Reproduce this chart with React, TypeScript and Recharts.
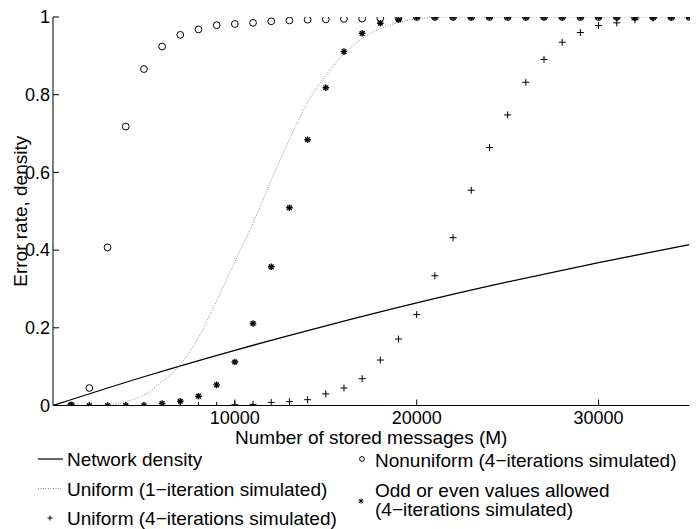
import React from 'react';
import { ComposedChart, Line, Scatter, XAxis, YAxis, Legend, Label } from 'recharts';

const FONT = '"Liberation Sans", Arial, Helvetica, sans-serif';

// Network density
const densityM = [0, 5000, 10000, 15000, 20000, 25000, 30000, 35000];
const densityVal = [0, 0.074, 0.142, 0.205, 0.264, 0.318, 0.368, 0.414];

// Uniform (1-iteration simulated) dotted curve
const uniform1M = [
  0, 1000, 2000, 3000, 4000, 5000, 6000, 7000, 8000, 9000, 10000, 11000, 12000,
  13000, 14000, 15000, 16000, 17000, 18000, 19000, 20000, 21000, 22000, 25000,
  30000, 35000,
];
const uniform1Val = [
  0, 0, 0, 0.002, 0.01, 0.027, 0.062, 0.105, 0.175, 0.27, 0.37, 0.47, 0.58,
  0.685, 0.78, 0.85, 0.905, 0.945, 0.97, 0.986, 0.995, 0.999, 1, 1, 1, 1,
];

// Simulated points at M = 1000 ... 35000
const simM = [
  1000, 2000, 3000, 4000, 5000, 6000, 7000, 8000, 9000, 10000, 11000, 12000,
  13000, 14000, 15000, 16000, 17000, 18000, 19000, 20000, 21000, 22000, 23000,
  24000, 25000, 26000, 27000, 28000, 29000, 30000, 31000, 32000, 33000, 34000,
  35000,
];
const uniform4Val = [
  0, 0, 0, 0, 0, 0, 0, 0, 0, 0.002, 0.003, 0.008, 0.01, 0.015, 0.03, 0.045,
  0.069, 0.117, 0.171, 0.234, 0.334, 0.432, 0.554, 0.664, 0.748, 0.832, 0.891,
  0.935, 0.96, 0.978, 0.985, 0.993, 0.997, 1, 1,
];
const nonuniformVal = [
  0, 0.045, 0.407, 0.718, 0.866, 0.924, 0.954, 0.968, 0.979, 0.982, 0.985,
  0.989, 0.991, 0.993, 0.994, 0.995, 0.996, 0.997, 0.998, 1, 1, 1, 1, 1, 1, 1,
  1, 1, 1, 1, 1, 1, 1, 1, 1,
];
const oddEvenVal = [
  0, 0, 0, 0, 0, 0.005, 0.011, 0.024, 0.053, 0.112, 0.211, 0.357, 0.509, 0.684,
  0.818, 0.911, 0.958, 0.984, 0.993, 1, 1, 1, 1, 1, 1, 1, 1, 1, 1, 1, 1, 1, 1,
  1, 1,
];

const xTicks = [10000, 20000, 30000];
const yTicks = [0, 0.2, 0.4, 0.6, 0.8, 1];

const toPts = (xs: number[], ys: number[]) => xs.map((x, i) => ({ x, y: ys[i] }));

const densityData = toPts(densityM, densityVal);
const uniform1Data = toPts(uniform1M, uniform1Val);
const uniform4Data = toPts(simM, uniform4Val);
const nonuniformData = toPts(simM, nonuniformVal);
const oddEvenData = toPts(simM, oddEvenVal);

const PlusShape = (p: any) => {
  const { cx, cy } = p;
  const r = 3.5;
  return (
    <g stroke="#000" strokeWidth={1}>
      <line x1={cx - r} y1={cy} x2={cx + r} y2={cy} />
      <line x1={cx} y1={cy - r} x2={cx} y2={cy + r} />
    </g>
  );
};

const CircleShape = (p: any) => {
  const { cx, cy } = p;
  return <circle cx={cx} cy={cy} r={3.4} fill="none" stroke="#000" strokeWidth={1} />;
};

const AsteriskShape = (p: any) => {
  const { cx, cy } = p;
  const r = 3.3;
  const d = r * 0.707;
  return (
    <g stroke="#000" strokeWidth={1.4}>
      <line x1={cx - r} y1={cy} x2={cx + r} y2={cy} />
      <line x1={cx} y1={cy - r} x2={cx} y2={cy + r} />
      <line x1={cx - d} y1={cy - d} x2={cx + d} y2={cy + d} />
      <line x1={cx - d} y1={cy + d} x2={cx + d} y2={cy - d} />
    </g>
  );
};

const LegendContent = () => {
  const top = 440;
  const ts = { fontFamily: FONT, fontSize: 19, fill: '#000' } as any;
  return (
    <svg width={696} height={89} style={{ display: 'block' }}>
      <line x1={38} x2={63} y1={459 - top} y2={459 - top} stroke="#000" strokeWidth={1.2} />
      <text x={67} y={466 - top} {...ts}>Network density</text>
      <line x1={38} x2={61} y1={488.5 - top} y2={488.5 - top} stroke="#8c8c8c" strokeWidth={1} strokeDasharray="1 1.5" />
      <text x={67} y={495.5 - top} {...ts}>Uniform (1−iteration simulated)</text>
      <g stroke="#000" strokeWidth={1}>
        <line x1={47.5} x2={52.5} y1={518 - top} y2={518 - top} />
        <line x1={50} x2={50} y1={515.5 - top} y2={520.5 - top} />
      </g>
      <text x={67} y={524.5 - top} {...ts}>Uniform (4−iterations simulated)</text>
      <circle cx={362} cy={459 - top} r={2.4} fill="none" stroke="#000" strokeWidth={1} />
      <text x={375} y={466.5 - top} {...ts}>Nonuniform (4−iterations simulated)</text>
      <g stroke="#000" strokeWidth={1}>
        <line x1={358.5} x2={363.5} y1={501 - top} y2={501 - top} />
        <line x1={361} x2={361} y1={498.5 - top} y2={503.5 - top} />
        <line x1={359.2} x2={362.8} y1={499.2 - top} y2={502.8 - top} />
        <line x1={359.2} x2={362.8} y1={502.8 - top} y2={499.2 - top} />
      </g>
      <text x={375} y={496.5 - top} {...ts}>Odd or even values allowed</text>
      <text x={375} y={515.5 - top} {...ts}>(4−iterations simulated)</text>
    </svg>
  );
};

const tickStyle = { fontSize: 18, fill: '#000', fontFamily: FONT };

export default function App() {
  return (
    <div style={{ position: 'absolute', left: 0, top: 0, background: '#fff' }}>
      <ComposedChart
        width={696}
        height={529}
        margin={{ top: 17, right: 6.5, left: 8, bottom: 83.5 }}
      >
        <XAxis
          xAxisId="main"
          type="number"
          dataKey="x"
          domain={[0, 35000]}
          allowDataOverflow
          ticks={xTicks}
          height={40}
          tickSize={-6}
          tickMargin={12}
          tick={tickStyle}
          stroke="#000"
          axisLine={{ stroke: '#000', strokeWidth: 1 }}
          tickLine={{ stroke: '#000' }}
        >
          <Label
            content={(props: any) => {
              const vb = props.viewBox;
              return (
                <text
                  x={vb.x + vb.width / 2}
                  y={443.5}
                  textAnchor="middle"
                  fontFamily={FONT}
                  fontSize={19}
                  fill="#000"
                >
                  Number of stored messages (M)
                </text>
              );
            }}
          />
        </XAxis>
        <XAxis
          xAxisId="top"
          orientation="top"
          type="number"
          dataKey="x"
          domain={[0, 35000]}
          allowDataOverflow
          ticks={xTicks}
          height={0}
          tickSize={-6}
          tick={false}
          axisLine={{ stroke: '#000', strokeWidth: 1 }}
          tickLine={{ stroke: '#000' }}
        />
        <YAxis
          yAxisId="main"
          type="number"
          domain={[0, 1]}
          allowDataOverflow
          ticks={yTicks}
          width={45}
          tickSize={-6}
          tickMargin={9}
          tick={tickStyle}
          axisLine={{ stroke: '#000', strokeWidth: 1 }}
          tickLine={{ stroke: '#000' }}
        >
          <Label
            content={(props: any) => {
              const vb = props.viewBox;
              const cy = vb.y + vb.height / 2;
              return (
                <text
                  x={20}
                  y={cy}
                  transform={`rotate(-90, 20, ${cy})`}
                  textAnchor="middle"
                  dominantBaseline="central"
                  fontFamily={FONT}
                  fontSize={19}
                  fill="#000"
                >
                  Error rate, density
                </text>
              );
            }}
          />
        </YAxis>
        <YAxis
          yAxisId="right"
          orientation="right"
          type="number"
          domain={[0, 1]}
          allowDataOverflow
          ticks={yTicks}
          width={0}
          tickSize={-6}
          tick={false}
          axisLine={{ stroke: '#000', strokeWidth: 1 }}
          tickLine={{ stroke: '#000' }}
        />
        <Line
          xAxisId="main"
          yAxisId="main"
          data={densityData}
          dataKey="y"
          type="monotone"
          stroke="#000"
          strokeWidth={1.3}
          dot={false}
          activeDot={false}
          isAnimationActive={false}
          legendType="none"
        />
        <Line
          xAxisId="main"
          yAxisId="main"
          data={uniform1Data}
          dataKey="y"
          type="monotone"
          stroke="#8c8c8c"
          strokeWidth={1}
          strokeDasharray="1 1.5"
          dot={false}
          activeDot={false}
          isAnimationActive={false}
          legendType="none"
        />
        <Scatter
          xAxisId="main"
          yAxisId="main"
          data={uniform4Data}
          dataKey="y"
          shape={PlusShape}
          isAnimationActive={false}
          legendType="none"
        />
        <Scatter
          xAxisId="main"
          yAxisId="main"
          data={nonuniformData}
          dataKey="y"
          shape={CircleShape}
          isAnimationActive={false}
          legendType="none"
        />
        <Scatter
          xAxisId="main"
          yAxisId="main"
          data={oddEvenData}
          dataKey="y"
          shape={AsteriskShape}
          isAnimationActive={false}
          legendType="none"
        />
        <Legend
          layout="horizontal"
          verticalAlign="middle"
          align="center"
          wrapperStyle={{ left: 0, top: 440, width: 696, height: 89 }}
          content={LegendContent}
        />
      </ComposedChart>
    </div>
  );
}
